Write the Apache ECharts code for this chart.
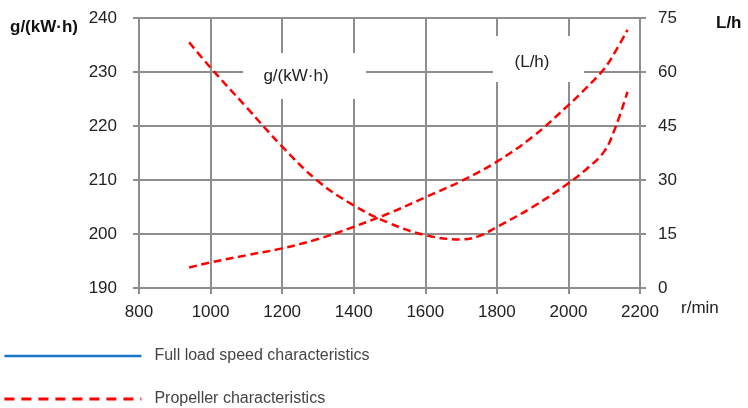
<!DOCTYPE html>
<html>
<head>
<meta charset="utf-8">
<script src="https://cdn.jsdelivr.net/npm/echarts@6/dist/echarts.min.js"></script>
<style>
  html, body { margin: 0; padding: 0; background: #fff; }
  #chart { width: 748px; height: 408px; }
</style>
</head>
<body>
<div id="chart"></div>
<script>
// speed axis, r/min
let rpmTicks = [800, 1000, 1200, 1400, 1600, 1800, 2000, 2200];
let geTicks = [190, 200, 210, 220, 230, 240];
let fuelTicks = [0, 15, 30, 45, 60, 75];

// specific fuel consumption, g/(kW·h) (left axis)
let geRpm = [940, 1000, 1100, 1200, 1300, 1400, 1500, 1600, 1700, 1750, 1800, 1900, 2000, 2050, 2100, 2130, 2165];
let geValues = [235.5, 230.8, 223.5, 216.2, 209.8, 205.3, 202.0, 199.8, 199.0, 199.6, 201.3, 205.0, 209.4, 212.0, 215.3, 219.5, 226.3];

// hourly fuel consumption, L/h (right axis)
let fuelRpm = [940, 1000, 1100, 1200, 1300, 1400, 1500, 1600, 1700, 1800, 1900, 2000, 2050, 2100, 2130, 2165];
let fuelValues = [5.7, 7.1, 9.1, 11.0, 13.6, 17.0, 20.8, 25.2, 29.7, 35.1, 42.0, 50.8, 55.6, 60.9, 65.5, 71.7];

let legendNames = ['Full load speed characteristics', 'Propeller characteristics'];

let gridColor = '#8e8e8e';
let redDash = [8, 4.5];
let plainLabel = function (v) { return String(v); };

function pairs(xs, ys) {
    return xs.map(function (x, i) { return [x, ys[i]]; });
}

let chart = echarts.init(document.getElementById('chart'));

let option = {
    animation: false,
    textStyle: { fontFamily: 'Liberation Sans, Arial, sans-serif' },
    grid: { left: 139, right: 108, top: 18, bottom: 120 },
    legend: {
        orient: 'vertical',
        left: 3,
        top: 348,
        height: 80,
        padding: 0,
        itemWidth: 137,
        itemHeight: 14,
        itemGap: 27,
        itemStyle: { opacity: 0 },
        textStyle: { fontSize: 16, color: '#444', padding: [0, 0, 0, 8] },
        data: [
            { name: legendNames[0], lineStyle: { width: 2.6 } },
            { name: legendNames[1], lineStyle: { type: [10, 7], width: 2.8 } }
        ]
    },
    xAxis: {
        type: 'value',
        min: rpmTicks[0],
        max: rpmTicks[rpmTicks.length - 1],
        interval: 200,
        axisLine: { show: true, lineStyle: { color: gridColor, width: 2 } },
        axisTick: { show: true, length: 6, lineStyle: { color: gridColor, width: 2 } },
        splitLine: { show: true, lineStyle: { color: gridColor, width: 2 } },
        axisLabel: { fontSize: 17, color: '#222', margin: 16, formatter: plainLabel }
    },
    yAxis: [
        {
            type: 'value',
            min: geTicks[0],
            max: geTicks[geTicks.length - 1],
            interval: 10,
            axisLine: { show: true, lineStyle: { color: gridColor, width: 2 } },
            axisTick: { show: true, length: 6, lineStyle: { color: gridColor, width: 2 } },
            splitLine: { show: true, lineStyle: { color: gridColor, width: 2 } },
            axisLabel: { fontSize: 17, color: '#222', margin: 22, formatter: plainLabel }
        },
        {
            type: 'value',
            min: fuelTicks[0],
            max: fuelTicks[fuelTicks.length - 1],
            interval: 15,
            position: 'right',
            axisLine: { show: true, lineStyle: { color: gridColor, width: 2 } },
            axisTick: { show: true, length: 6, lineStyle: { color: gridColor, width: 2 } },
            splitLine: { show: false },
            axisLabel: { fontSize: 17, color: '#222', margin: 18, formatter: plainLabel }
        }
    ],
    graphic: [
        // unit labels around the axes
        { type: 'text', left: 10, top: 19, style: { text: 'g/(kW·h)', font: 'bold 17px Liberation Sans, Arial', fill: '#111' } },
        { type: 'text', left: 716, top: 15, style: { text: 'L/h', font: 'bold 17px Liberation Sans, Arial', fill: '#111' } },
        { type: 'text', left: 681, top: 300, style: { text: 'r/min', font: '17px Liberation Sans, Arial', fill: '#222' } },
        // curve labels on white boxes
        { type: 'rect', z: 100, shape: { x: 243, y: 53, width: 123, height: 46 }, style: { fill: '#fff' } },
        { type: 'text', z: 101, x: 296, y: 76, style: { text: 'g/(kW·h)', font: '17px Liberation Sans, Arial', fill: '#222', align: 'center', verticalAlign: 'middle' } },
        { type: 'rect', z: 100, shape: { x: 493, y: 36, width: 91, height: 46 }, style: { fill: '#fff' } },
        { type: 'text', z: 101, x: 532, y: 62, style: { text: '(L/h)', font: '17px Liberation Sans, Arial', fill: '#222', align: 'center', verticalAlign: 'middle' } }
    ],
    series: [
        {
            name: legendNames[0],
            type: 'line',
            symbol: 'none',
            color: '#1b75c9',
            lineStyle: { color: '#1b75c9', width: 2.5 },
            data: []
        },
        {
            name: legendNames[1],
            type: 'line',
            yAxisIndex: 0,
            smooth: 0.4,
            symbol: 'none',
            color: '#ff0000',
            lineStyle: { color: '#ff0000', width: 2.5, type: redDash },
            data: pairs(geRpm, geValues)
        },
        {
            name: legendNames[1],
            type: 'line',
            yAxisIndex: 1,
            smooth: 0.4,
            symbol: 'none',
            color: '#ff0000',
            lineStyle: { color: '#ff0000', width: 2.5, type: redDash },
            data: pairs(fuelRpm, fuelValues)
        }
    ]
};

chart.setOption(option);
</script>
</body>
</html>
